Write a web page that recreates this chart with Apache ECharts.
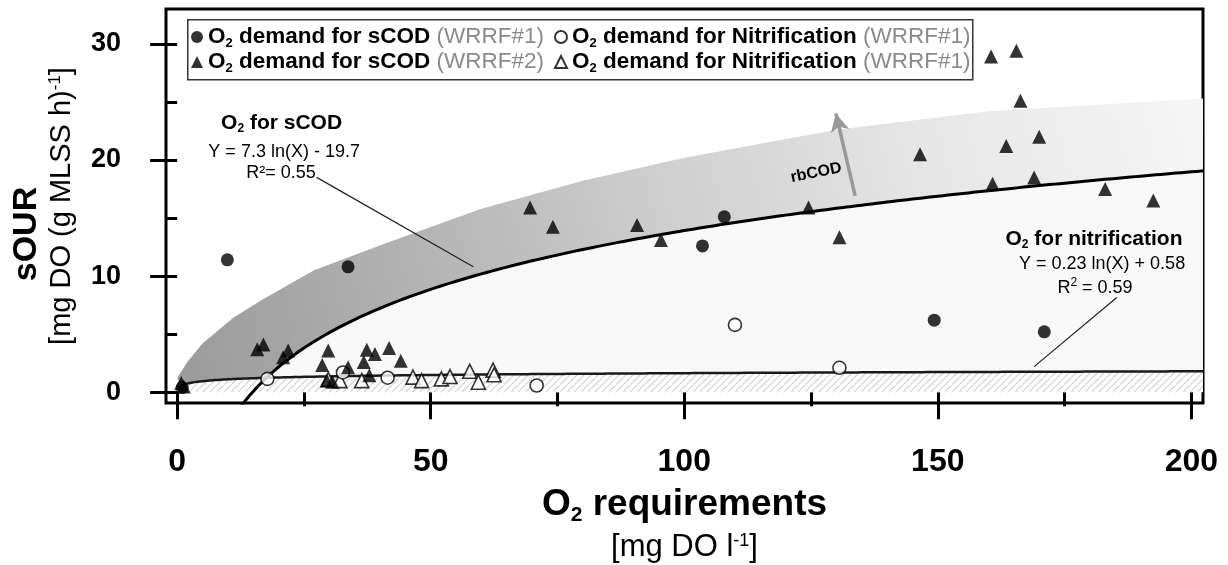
<!DOCTYPE html>
<html><head><meta charset="utf-8">
<script src="https://cdn.jsdelivr.net/npm/echarts@6/dist/echarts.min.js"></script>
<style>html,body{margin:0;padding:0;background:#fff}#c{width:1228px;height:565px}</style>
</head><body><div id="c"></div>
<script>
// ---------------- data ----------------
const sCOD_WRRF1 = [[1.0,0.4],[9.9,11.4],[33.7,10.8],[103.6,12.6],[107.9,15.1],[149.3,6.2],[171.0,5.2]];
const sCOD_WRRF2 = [[0.8,0.8],[1.3,0.5],[15.8,3.7],[17.0,4.1],[20.9,3.0],[21.9,3.6],[28.6,2.35],[29.8,3.6],
  [29.5,1.0],[30.6,0.9],[33.7,2.15],[36.8,2.6],[37.4,3.65],[37.9,1.45],[39.0,3.3],[41.8,3.8],[44.1,2.7],
  [69.6,15.9],[74.1,14.25],[90.7,14.4],[95.4,13.1],[124.5,15.9],[130.6,13.35],[146.5,20.5],[160.8,17.95],
  [160.5,28.9],[163.5,21.2],[165.5,29.4],[166.3,25.1],[169.0,18.5],[170.0,22.0],[183.0,17.5],[192.5,16.5]];
const nitrif_WRRF1_circles = [[17.8,1.15],[32.7,1.7],[41.5,1.25],[70.9,0.58],[110.0,5.8],[130.6,2.1]];
const nitrif_WRRF1_triangles = [[29.8,1.1],[32.1,1.0],[36.4,1.0],[46.5,1.3],[48.2,1.0],[52.1,1.15],
  [53.8,1.35],[57.7,1.8],[59.4,0.86],[62.3,1.9],[62.5,1.5]];
// fitted models printed on the chart
const sCODFit = {a:7.3, b:-19.7};     // Y = 7.3 ln(X) - 19.7
const nitFit  = {a:0.23, b:0.58};     // Y = 0.23 ln(X) + 0.58
// upper edge of the shaded rbCOD band
const rbcodUpper = [[0,1.2],[2,2.6],[5,4.2],[11,6.4],[16.5,7.9],[27,10.5],[41,12.8],[60,15.8],
  [80,18.2],[100,20.2],[130,22.6],[160,24.2],[202.3,25.3]];
const xTicksMajor = [0,50,100,150,200];
const xTicksMinor = [25,75,125,175];
const yTicksMajor = [0,10,20,30];
const yTicksMinor = [5,15,25];
const X_MIN=-2.2, X_MAX=202.3, Y_MIN=-0.93, Y_MAX=33;

// ---------------- helpers ----------------
const FF = "'Liberation Sans', Arial, sans-serif";
const FN = "'Liberation Sans Narrow', 'Arial Narrow', 'Liberation Sans', sans-serif";
const scod = x => sCODFit.a*Math.log(x)+sCODFit.b;
const nit  = x => nitFit.a*Math.log(x)+nitFit.b;
const curveXs = [];
for (let x=1; x<X_MAX; x += (x<25?0.25:1)) curveXs.push(x);
curveXs.push(X_MAX);
const cross = Math.exp((nitFit.b - sCODFit.b)/(sCODFit.a - nitFit.a));
const scodCurve = curveXs.filter(x=>x>=12).map(x=>[x, scod(x)]);
const nitCurve  = curveXs.map(x=>[x, nit(x)]);

function bandPts(){
  const low=[];
  for (let i=curveXs.length-1;i>=0;i--){const x=curveXs[i]; low.push([x, Math.max(scod(x), nit(x))]);}
  return rbcodUpper.concat(low);
}
function lightPts(){
  const xs = [cross].concat(curveXs.filter(x=>x>cross));
  const up = xs.map(x=>[x,scod(x)]);
  const lo = xs.slice().reverse().map(x=>[x,nit(x)]);
  return up.concat(lo);
}
function hatchPts(){
  return nitCurve.concat([[X_MAX,0],[1,0]]);
}
const hatch = (function(){
  const c=document.createElement('canvas'); const n=7; c.width=n; c.height=n;
  const g=c.getContext('2d'); g.fillStyle='#fff'; g.fillRect(0,0,n,n);
  g.strokeStyle='#cdcdcd'; g.lineWidth=1.1; g.beginPath();
  g.moveTo(-1,n+1); g.lineTo(n+1,-1); g.moveTo(-2,1); g.lineTo(1,-2); g.moveTo(n-1,n+2); g.lineTo(n+2,n-1);
  g.stroke(); return c;
})();

function polySeries(name, getPts, fillFn, z){
  return {type:'custom', name, silent:true, z, clip:true, animation:false, data:[[0,0]],
    renderItem:(params, api)=>({type:'polygon', shape:{points:getPts().map(p=>api.coord(p))},
      style:{fill:fillFn(api), stroke:null}})};
}

// annotations (text placed in data coordinates)
const annRich = {
  b:{fontFamily:FF,fontWeight:'bold',fontSize:21,color:'#000',lineHeight:24},
  bs:{fontFamily:FF,fontWeight:'bold',fontSize:12,color:'#000',verticalAlign:'top',padding:[12,0,0,0],lineHeight:24},
  e:{fontFamily:FF,fontSize:18,color:'#111',lineHeight:22},
  es:{fontFamily:FF,fontSize:12,color:'#111',verticalAlign:'top',padding:[0,0,0,0],lineHeight:22},
  gb:{fontFamily:FF,fontWeight:'bold',fontSize:21,color:'#9a9a9a',lineHeight:24},
  gbs:{fontFamily:FF,fontWeight:'bold',fontSize:12,color:'#9a9a9a',verticalAlign:'top',padding:[12,0,0,0],lineHeight:24},
  r:{fontFamily:FF,fontWeight:'bold',fontSize:16,color:'#8a8a8a'}
};
const annotations = [
  {at:[20.6,23.2], text:'{b|O}{bs|2}{b| for sCOD}'},
  {at:[21.1,20.65], text:'{e|Y = 7.3 ln(X) - 19.7}'},
  {at:[20.5,18.9], text:'{e|R²= 0.55}'},
  {at:[126.0,18.9], text:'{r|rbCOD}', rot:0.2},
  {at:[180.8,13.2], text:'{gb|O}{gbs|2}{gb| for nitrification}'},
  {at:[182.4,11.05], text:'{e|Y = 0.23 ln(X) + 0.58}'},
  {at:[181.0,9.0], text:'{e|R}{es|2}{e| = 0.59}'}
];

const legendText = {
  sCOD1:['sCOD','(WRRF#1)'], sCOD2:['sCOD','(WRRF#2)'],
  nit1:['Nitrification','(WRRF#1)'], nit2:['Nitrification','(WRRF#1)']
};
const legendRich = {
  b:{fontFamily:FF,fontWeight:'bold',fontSize:22.5,color:'#000',lineHeight:24},
  s:{fontFamily:FF,fontWeight:'bold',fontSize:13,color:'#000',verticalAlign:'top',padding:[12,0,0,0],lineHeight:24},
  g:{fontFamily:FF,fontSize:22.5,color:'#8a8a8a',lineHeight:24}
};
function legendRow(names, icons, top){
  return {orient:'horizontal', left:191, top, itemGap:10, itemWidth:12, itemHeight:12, padding:0,
    selectedMode:false, z:10,
    data:names.map((n,i)=>({name:n, icon:icons[i]})),
    formatter: n => '{b|O}{s|2}{b| demand for '+legendText[n][0]+'}{g| '+legendText[n][1]+'}',
    textStyle:{rich:legendRich}};
}

const tickStyle = {color:'#000', width:3};
function xAxisDef(ticks, len, labels){
  return {type:'value', min:X_MIN, max:X_MAX, position:'bottom',
    axisLine:{show:false}, splitLine:{show:false},
    axisTick:{show:true, length:len, lineStyle:tickStyle, customValues:ticks},
    axisLabel: labels ? {show:true, customValues:ticks, margin:43, fontFamily:FF, fontWeight:'bold', fontSize:32, color:'#000'} : {show:false}
  };
}
function yAxisDef(ticks, len, labels){
  return {type:'value', min:Y_MIN, max:Y_MAX, position:'left',
    axisLine:{show:false}, splitLine:{show:false},
    axisTick:{show:true, length:len, lineStyle:tickStyle, customValues:ticks},
    axisLabel: labels ? {show:true, customValues:ticks, margin:45, fontFamily:FF, fontWeight:'bold', fontSize:27, color:'#000'} : {show:false}
  };
}
const xMain = xAxisDef(xTicksMajor, 27, true);
xMain.name = '{t|O}{ts|2}{t| requirements}\n{u|[mg DO l}{us|-1}{u|]}';
xMain.nameLocation = 'middle';
xMain.nameGap = 75;
xMain.nameTextStyle = {rich:{
  t:{fontFamily:FF,fontWeight:'bold',fontSize:37,color:'#000',lineHeight:44},
  ts:{fontFamily:FF,fontWeight:'bold',fontSize:21,color:'#000',verticalAlign:'top',padding:[22,0,0,0],lineHeight:44},
  u:{fontFamily:FF,fontSize:31,color:'#000',lineHeight:42},
  us:{fontFamily:FF,fontSize:18,color:'#000',verticalAlign:'top',padding:[5,0,0,0],lineHeight:42}
}};
const yMain = yAxisDef(yTicksMajor, 27, true);
yMain.name = '{s|sOUR}\n{u|[mg DO (g MLSS h)}{us|-1}{u|]}';
yMain.nameLocation = 'middle';
yMain.nameGap = 87;
yMain.nameTextStyle = {rich:{
  s:{fontFamily:FN,fontWeight:'bold',fontSize:34,color:'#000',lineHeight:36,padding:[0,56,0,0]},
  u:{fontFamily:FF,fontSize:29,color:'#000',lineHeight:34},
  us:{fontFamily:FF,fontSize:17,color:'#000',verticalAlign:'top',padding:[2,0,0,0],lineHeight:34}
}};

const chart = echarts.init(document.getElementById('c'), null, {renderer:'canvas'});
chart.setOption({
  animation:false,
  backgroundColor:'#fff',
  grid:{left:166, right:25, top:9, bottom:162, show:true, borderColor:'#000', borderWidth:3,
        backgroundColor:'#fff', outerBoundsMode:'none', containLabel:false},
  xAxis:[xMain, xAxisDef(xTicksMinor, 14, false)],
  yAxis:[yMain, yAxisDef(yTicksMinor, 12, false)],
  graphic:[{type:'rect', z:8, left:187, top:19, shape:{width:785, height:60},
            style:{fill:'#fff', stroke:'#333', lineWidth:1.5}}],
  legend:[
    legendRow(['sCOD1','nit1'], ['circle','circle'], 25),
    legendRow(['sCOD2','nit2'], ['triangle','triangle'], 50)
  ],
  series:[
    polySeries('hatch', hatchPts, ()=>({image:hatch, repeat:'repeat'}), 1),
    polySeries('light', lightPts, ()=>'#f8f8f8', 1),
    polySeries('band', bandPts, api=>{
      const p0=api.coord([0,0]), p1=api.coord([X_MAX,25]);
      return {type:'linear', x:p0[0], y:p0[1], x2:p1[0], y2:p1[1], global:true,
        colorStops:[{offset:0,color:'#9a9a9a'},{offset:0.25,color:'#b3b3b3'},{offset:0.5,color:'#d0d0d0'},
                    {offset:0.75,color:'#e7e7e7'},{offset:1,color:'#f6f6f6'}]};
    }, 2),
    {type:'line', name:'nitFit', data:nitCurve, symbol:'none', silent:true, z:3, clip:true,
     lineStyle:{color:'#1a1a1a', width:2.5}},
    {type:'line', name:'scodFit', data:scodCurve, symbol:'none', silent:true, z:3, clip:true,
     lineStyle:{color:'#000', width:3},
     markLine:{silent:true, animation:false, symbol:['none','none'], label:{show:false}, emphasis:{disabled:true},
       data:[
         [{coord:[27.5,18.5], lineStyle:{color:'#222',width:1.2,type:'solid'}},{coord:[58.4,10.8]}],
         [{coord:[185.3,8.16], lineStyle:{color:'#222',width:1.2,type:'solid'}},{coord:[169.0,2.2]}],
         [{coord:[133.7,16.9], lineStyle:{color:'#999',width:3.5,type:'solid'}, itemStyle:{color:'#999'}},
          {coord:[129.9,24.0], symbol:'arrow', symbolSize:[14,18], itemStyle:{color:'#999'}}]
       ]}},
    {type:'scatter', name:'nit2', data:nitrif_WRRF1_triangles, symbol:'triangle', symbolSize:14, z:4,
     itemStyle:{color:'#fff', borderColor:'#000', borderWidth:1.6}},
    {type:'scatter', name:'nit1', data:nitrif_WRRF1_circles, symbol:'circle', symbolSize:13, z:4,
     itemStyle:{color:'#fff', borderColor:'#000', borderWidth:1.6}},
    {type:'scatter', name:'sCOD2', data:sCOD_WRRF2, symbol:'triangle', symbolSize:14, z:5,
     itemStyle:{color:'#000'}},
    {type:'scatter', name:'sCOD1', data:sCOD_WRRF1, symbol:'circle', symbolSize:13, z:5,
     itemStyle:{color:'#000'}},
    {type:'custom', name:'annotations', silent:true, z:6, animation:false,
     data:annotations.map(a=>a.at),
     renderItem:(params, api)=>{
       const a = annotations[params.dataIndex];
       const p = api.coord([api.value(0), api.value(1)]);
       return {type:'text', x:p[0], y:p[1], rotation:a.rot||0,
         style:{text:a.text, rich:annRich, align:'center', verticalAlign:'middle'}};
     }}
  ]
});
</script></body></html>
